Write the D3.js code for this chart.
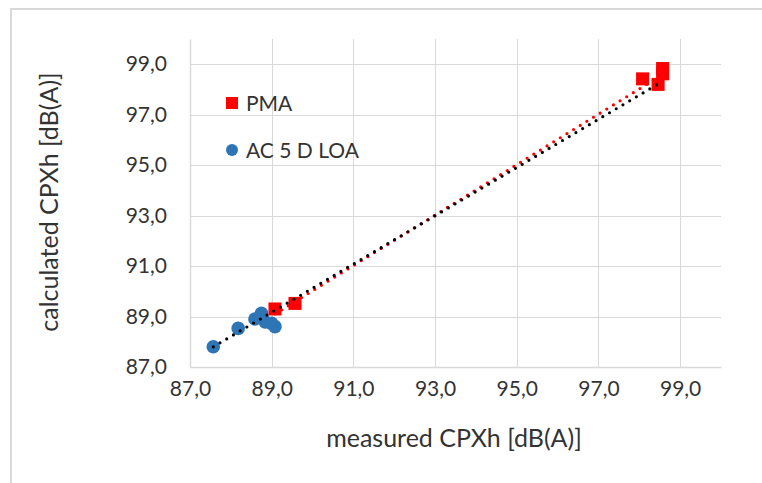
<!DOCTYPE html>
<html>
<head>
<meta charset="utf-8">
<script src="https://cdn.jsdelivr.net/npm/d3@7"></script>
<style>
  html, body { margin: 0; padding: 0; background: #fff; }
  svg { display: block; }
  text { font-family: Lato, "Open Sans", sans-serif; fill: #333; }
</style>
</head>
<body>
<svg id="chart" width="762" height="483"></svg>
<script>
// ---- data ----
const pmaX = [89.08, 89.57, 98.08, 98.46, 98.57, 98.57];
const pmaY = [89.30, 89.52, 98.42, 98.20, 98.83, 98.62];
const acX  = [87.57, 88.18, 88.59, 88.75, 88.84, 89.00, 89.08];
const acY  = [87.80, 88.53, 88.90, 89.13, 88.79, 88.73, 88.60];
const trendAcX  = [87.57, 98.58];
const trendAcY  = [87.80, 98.33];
const trendPmaX = [89.08, 98.58];
const trendPmaY = [89.10, 98.60];
const xTicks = [87, 89, 91, 93, 95, 97, 99];
const yTicks = [87, 89, 91, 93, 95, 97, 99];
const seriesNames = ["PMA", "AC 5 D LOA"];
const xTitle = "measured CPXh [dB(A)]";
const yTitle = "calculated CPXh [dB(A)]";

const svg = d3.select("#chart");
const m = {left: 190, right: 721, top: 39, bottom: 367};
const x = d3.scaleLinear().domain([87, 100]).range([m.left, m.right]);
const y = d3.scaleLinear().domain([87, 100]).range([m.bottom, m.top]);
const fmt = d => d3.format(".1f")(d).replace(".", ",");
const grid = "#d9d9d9";

// outer frame (cropped)
svg.append("rect").attr("x", 11).attr("y", 9).attr("width", 800).attr("height", 600)
  .attr("fill", "none").attr("stroke", grid).attr("stroke-width", 2);

// gridlines
svg.append("g").selectAll("line").data(yTicks.filter(d => d !== 87)).join("line")
  .attr("x1", m.left).attr("x2", m.right)
  .attr("y1", d => Math.round(y(d)) + 0.5).attr("y2", d => Math.round(y(d)) + 0.5)
  .attr("stroke", grid).attr("stroke-width", 1);
svg.append("g").selectAll("line").data(xTicks.filter(d => d !== 87)).join("line")
  .attr("y1", m.top).attr("y2", m.bottom)
  .attr("x1", d => Math.round(x(d)) + 0.5).attr("x2", d => Math.round(x(d)) + 0.5)
  .attr("stroke", grid).attr("stroke-width", 1);

// axes with d3
const xAxis = d3.axisBottom(x).tickValues(xTicks).tickFormat(fmt).tickSize(0).tickPadding(14);
const yAxis = d3.axisLeft(y).tickValues(yTicks).tickFormat(fmt).tickSize(0).tickPadding(23);
const gx = svg.append("g").attr("transform", `translate(0,${m.bottom})`).call(xAxis);
const gy = svg.append("g").attr("transform", `translate(${m.left},0)`).call(yAxis);
[gx, gy].forEach(g => {
  g.select(".domain").attr("stroke", grid).attr("stroke-width", 1.5);
  g.selectAll("text").style("font-family", "Lato, sans-serif").style("font-size", "21px").attr("fill", "#333");
});

// points
const acData = acX.map((v, i) => [v, acY[i]]);
const pmaData = pmaX.map((v, i) => [v, pmaY[i]]);
const blue = "#2E75B6", red = "#FF0000";
svg.append("g").selectAll("circle").data(acData).join("circle")
  .attr("cx", d => x(d[0])).attr("cy", d => y(d[1])).attr("r", 6.8).attr("fill", blue);
const sq = 13;
svg.append("g").selectAll("rect").data(pmaData).join("rect")
  .attr("x", d => x(d[0]) - sq / 2).attr("y", d => y(d[1]) - sq / 2)
  .attr("width", sq).attr("height", sq).attr("fill", red);

// trend lines
const line = d3.line().x(d => x(d[0])).y(d => y(d[1]));
svg.append("path").datum(trendPmaX.map((v, i) => [v, trendPmaY[i]])).attr("d", line)
  .attr("fill", "none").attr("stroke", red).attr("stroke-width", 3.2)
  .attr("stroke-linecap", "round").attr("stroke-dasharray", "0 7.8");
svg.append("path").datum(trendAcX.map((v, i) => [v, trendAcY[i]])).attr("d", line)
  .attr("fill", "none").attr("stroke", "#000").attr("stroke-width", 3.2)
  .attr("stroke-linecap", "round").attr("stroke-dasharray", "0 7.8");

// legend
const lg = svg.append("g");
lg.append("rect").attr("x", 226).attr("y", 97).attr("width", 12).attr("height", 12).attr("fill", red);
lg.append("text").attr("x", 246).attr("y", 103).attr("dy", "0.36em").style("font-size", "21px").text(seriesNames[0]);
lg.append("circle").attr("cx", 232).attr("cy", 150).attr("r", 6).attr("fill", blue);
lg.append("text").attr("x", 246).attr("y", 150).attr("dy", "0.36em").style("font-size", "21px").text(seriesNames[1]);

// titles
svg.append("text").attr("x", 454).attr("y", 447).attr("text-anchor", "middle")
  .style("font-size", "25px").text(xTitle);
svg.append("text").attr("transform", `translate(58,202) rotate(-90)`)
  .attr("text-anchor", "middle").style("font-size", "25px").text(yTitle);
</script>
</body>
</html>
